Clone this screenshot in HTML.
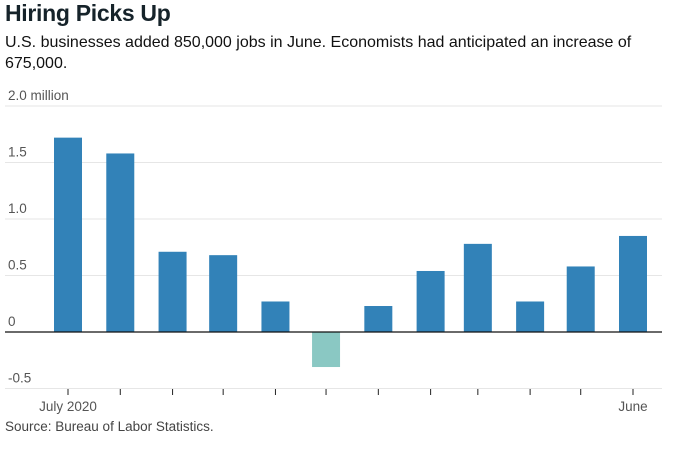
<!DOCTYPE html>
<html><head><meta charset="utf-8"><style>
body{margin:0;width:675px;height:452px;background:#fff;font-family:"Liberation Sans",sans-serif;overflow:hidden;position:relative}
#title{position:absolute;left:5px;top:0px;font-size:23px;font-weight:bold;color:#16232a;letter-spacing:-0.3px}
#sub{position:absolute;left:5px;top:32px;width:670px;font-size:16px;line-height:21px;color:#111}
#src{position:absolute;left:5px;top:419px;font-size:13.5px;color:#444}
svg{position:absolute;left:0;top:0}
</style></head><body>
<div id="title">Hiring Picks Up</div>
<div id="sub">U.S. businesses added 850,000 jobs in June. Economists had anticipated an increase of 675,000.</div>
<svg id="chart" width="675" height="452"></svg>
<div id="src">Source: Bureau of Labor Statistics.</div>
<script>
const months = ["2020-07-01","2020-08-01","2020-09-01","2020-10-01","2020-11-01","2020-12-01","2021-01-01","2021-02-01","2021-03-01","2021-04-01","2021-05-01","2021-06-01"];
const values = [1.72, 1.58, 0.71, 0.68, 0.27, -0.31, 0.23, 0.54, 0.78, 0.27, 0.58, 0.85];
const yTicks = [-0.5, 0, 0.5, 1.0, 1.5, 2.0];
const yTickLabels = ["-0.5", "0", "0.5", "1.0", "1.5", "2.0 million"];
const xLabels = {"2020-07-01":"July 2020","2021-06-01":"June"};

const svg = document.getElementById('chart');
const NS = 'http://www.w3.org/2000/svg';
const t0 = Date.parse(months[0]), t1 = Date.parse(months[months.length-1]);
const x = d => 68 + (Date.parse(d) - t0) / (t1 - t0) * (633 - 68);
const y = v => 332 - v * 113;
function mk(tag, attrs){const e=document.createElementNS(NS,tag);for(const k in attrs)e.setAttribute(k,attrs[k]);svg.appendChild(e);return e;}

yTicks.forEach((v,i)=>{
  if(v!==0){
    const g=mk('line',{x1:5,x2:662,y1:y(v),y2:y(v),stroke:'#e6e6e6','stroke-width':1});
    
    
  }
  const t=mk('text',{x:8,y:y(v)-6,'font-size':13.5,fill:'#555','font-family':'Liberation Sans, sans-serif'});
  t.textContent=yTickLabels[i];
  
  
});
months.forEach((m,i)=>{
  const v=values[i];
  const r=mk('rect',{x:x(m)-14,width:28,y:Math.min(y(v),y(0)),height:Math.abs(y(v)-y(0)),fill:v<0?'#8ac8c3':'#3282b8'});
  
  
  const tk=mk('line',{x1:x(m),x2:x(m),y1:389,y2:395,stroke:'#222','stroke-width':1});
  
  
  if(xLabels[m]){
    const t=mk('text',{x:x(m),y:411,'font-size':13.5,fill:'#555','text-anchor':'middle','font-family':'Liberation Sans, sans-serif'});
    t.textContent=xLabels[m];
    
    
  }
});
const z=mk('line',{x1:5,x2:662,y1:y(0),y2:y(0),stroke:'#111','stroke-width':1.2});


</script>
</body></html>
